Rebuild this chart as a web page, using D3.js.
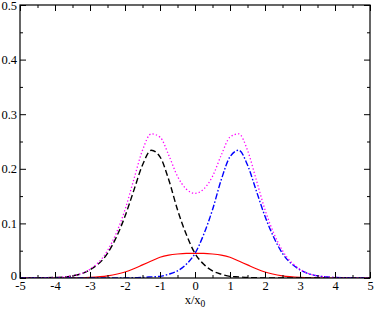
<!DOCTYPE html>
<html>
<head>
<meta charset="utf-8">
<script src="https://cdn.jsdelivr.net/npm/d3@7"></script>
<style>
  body { margin: 0; background: #fff; }
  svg { display: block; }
  .tick text { font-family: "Liberation Serif", serif; font-size: 12.5px; fill: #000; }
</style>
</head>
<body>
<div id="chart"></div>
<script>
// values
const xs = [-5, -4, -3.5, -3, -2.5, -2, -1.75, -1.5, -1.25, -1, -0.75, -0.5, -0.25, 0,
            0.25, 0.5, 0.75, 1, 1.25, 1.5, 1.75, 2, 2.5, 3, 3.5, 4, 5];
const leftPeak = [0, 0.001, 0.004, 0.015, 0.045, 0.113, 0.16, 0.207, 0.234, 0.222, 0.18, 0.125, 0.08, 0.045,
                  0.025, 0.013, 0.007, 0.003, 0.002, 0.001, 0.0005, 0, 0, 0, 0, 0, 0];
const rightPeak = leftPeak.slice().reverse();
const flatPeak = [0, 0, 0, 0.001, 0.004, 0.011, 0.017, 0.024, 0.031, 0.038, 0.042, 0.044, 0.045, 0.045,
                  0.045, 0.044, 0.042, 0.038, 0.031, 0.024, 0.017, 0.011, 0.004, 0.001, 0, 0, 0];
const total = [0, 0.001, 0.004, 0.016, 0.05, 0.125, 0.18, 0.234, 0.264, 0.258, 0.225, 0.186, 0.163, 0.155,
               0.163, 0.186, 0.225, 0.258, 0.264, 0.234, 0.18, 0.125, 0.05, 0.016, 0.004, 0.001, 0];

const xTicks = [-5, -4, -3, -2, -1, 0, 1, 2, 3, 4, 5];
const yTicks = [0, 0.1, 0.2, 0.3, 0.4, 0.5];

const width = 374, height = 309;
const margin = { top: 5, right: 4, bottom: 31, left: 20 };
const innerW = width - margin.left - margin.right;
const innerH = height - margin.top - margin.bottom;

const svg = d3.select("#chart").append("svg")
  .attr("width", width)
  .attr("height", height);

const g = svg.append("g")
  .attr("transform", `translate(${margin.left},${margin.top})`);

const x = d3.scaleLinear().domain([-5, 5]).range([0, innerW]);
const y = d3.scaleLinear().domain([0, 0.5]).range([innerH, 0]);

const xMinor = d3.range(-4.5, 5, 1);
const yMinor = d3.range(0.05, 0.5, 0.1);

// clip so curves stay inside the frame
svg.append("clipPath").attr("id", "clip")
  .append("rect").attr("width", innerW).attr("height", innerH);

const line = vals => d3.line()
  .x((d, i) => x(xs[i]))
  .y(d => y(d))
  .curve(d3.curveMonotoneX)(vals);

const plot = g.append("g").attr("clip-path", "url(#clip)");

plot.append("path").attr("d", line(flatPeak))
  .attr("fill", "none").attr("stroke", "#ff0000").attr("stroke-width", 1.2);
plot.append("path").attr("d", line(leftPeak))
  .attr("fill", "none").attr("stroke", "#000").attr("stroke-width", 1.4)
  .attr("stroke-dasharray", "6,3");
plot.append("path").attr("d", line(rightPeak))
  .attr("fill", "none").attr("stroke", "#0000ff").attr("stroke-width", 1.4)
  .attr("stroke-dasharray", "6,2,1.5,2");
plot.append("path").attr("d", line(total))
  .attr("fill", "none").attr("stroke", "#ff00ff").attr("stroke-width", 1.3)
  .attr("stroke-dasharray", "1.3,2.2");

// axes with inward ticks (plain hyphen for minus, like the reference)
g.append("g").attr("transform", `translate(0,${innerH})`)
  .call(d3.axisBottom(x).tickValues(xTicks).tickSize(-6).tickPadding(3.5).tickFormat(d => String(d)));
g.append("g")
  .call(d3.axisLeft(y).tickValues(yTicks).tickSize(-6).tickPadding(3)
    .tickFormat(d => d === 0 ? "0" : d.toFixed(1)))
  .selectAll(".tick text")
  .attr("dy", d => d === 0 ? "0.15em" : "0.32em");
g.append("g")
  .call(d3.axisTop(x).tickValues(xTicks).tickSize(-6).tickFormat(""));
g.append("g").attr("transform", `translate(${innerW},0)`)
  .call(d3.axisRight(y).tickValues(yTicks).tickSize(-6).tickFormat(""));

g.append("g").attr("transform", `translate(0,${innerH})`)
  .call(d3.axisBottom(x).tickValues(xMinor).tickSize(-3).tickFormat(""));
g.append("g")
  .call(d3.axisTop(x).tickValues(xMinor).tickSize(-3).tickFormat(""));
g.append("g")
  .call(d3.axisLeft(y).tickValues(yMinor).tickSize(-3).tickFormat(""));
g.append("g").attr("transform", `translate(${innerW},0)`)
  .call(d3.axisRight(y).tickValues(yMinor).tickSize(-3).tickFormat(""));

g.selectAll(".domain").remove();
g.selectAll(".tick line").attr("stroke", "#000");

g.append("rect")
  .attr("width", innerW).attr("height", innerH)
  .attr("fill", "none").attr("stroke", "#000").attr("stroke-width", 1.2);

// axis title x/x0
const title = svg.append("text")
  .attr("x", margin.left + x(0)).attr("y", 303.5)
  .attr("text-anchor", "middle")
  .style("font-family", "Liberation Serif, serif")
  .style("font-size", "12.5px");
title.append("tspan").text("x/x");
title.append("tspan").attr("dy", 3.5).style("font-size", "9.5px").text("0");
</script>
</body>
</html>
